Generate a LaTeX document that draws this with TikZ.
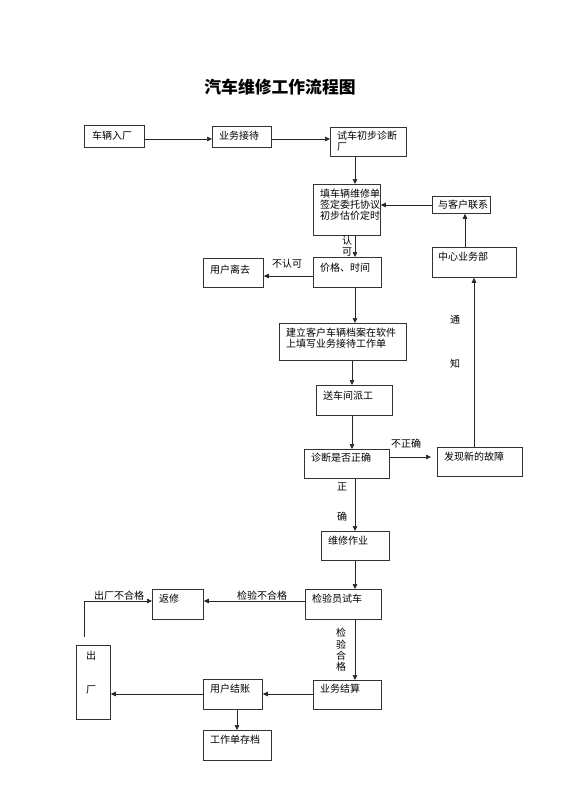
\documentclass[tikz,border=0pt]{standalone}
\usepackage{fontspec}
\setmainfont{Noto Sans CJK SC}
\usetikzlibrary{arrows.meta}
\begin{document}
\begin{tikzpicture}[x=1pt,y=-1pt,
  box/.style={draw=black!80,line width=0.8pt,minimum width=#1,anchor=north west,inner sep=0pt},
  txt/.style={inner sep=0pt,anchor=west,font=\fontsize{10}{11}\selectfont},
  mtxt/.style={inner sep=0pt,anchor=north west,align=left,font=\fontsize{10}{11}\selectfont},
  lbl/.style={inner sep=0pt,font=\fontsize{10}{11}\selectfont},
  vlbl/.style={inner sep=0pt,align=center,font=\fontsize{10}{11.3}\selectfont},
  arr/.style={draw=black!85,line width=0.7pt,-{Triangle[length=5pt,width=4.5pt]}},
  ln/.style={draw=black!85,line width=0.7pt}]
\fill[white] (0,0) rectangle (560,792);
\useasboundingbox (0,0) rectangle (560,792);

\node[inner sep=0pt,font=\fontsize{16.8}{18}\selectfont\bfseries] (title) at (280,87) {汽车维修工作流程图};

% boxes
\node[box=60pt,minimum height=22pt] (rk) at (84,125) {};
\node[txt] (rkt) at (92,136) {车辆入厂};
\node[box=59pt,minimum height=21pt] (yw) at (212,126) {};
\node[txt] (ywt) at (219,136) {业务接待};
\node[box=76pt,minimum height=29pt] (sc) at (330,127) {};
\node[mtxt] (sct) at (337,131) {试车初步诊断\\厂};
\node[box=67pt,minimum height=51pt] (tx) at (313,184) {};
\node[mtxt] (txt) at (320,189) {填车辆维修单\\签定委托协议\\初步估价定时};
\node[box=58pt,minimum height=17pt] (lx) at (432,196) {};
\node[txt] (lxt) at (438,205) {与客户联系};
\node[box=84pt,minimum height=30pt] (zx) at (432,247) {};
\node[txt] (zxt) at (438,257) {中心业务部};
\node[box=68pt,minimum height=30pt] (jg) at (313,257) {};
\node[txt] (jgt) at (320,268) {价格、时间};
\node[box=60pt,minimum height=29pt] (lq) at (203,258) {};
\node[txt] (lqt) at (210,270) {用户离去};
\node[box=127pt,minimum height=37pt] (jl) at (279,323) {};
\node[mtxt] (jlt) at (286,328) {建立客户车辆档案在软件\\上填写业务接待工作单};
\node[box=76pt,minimum height=30pt] (pg) at (316,385) {};
\node[txt] (pgt) at (323,396) {送车间派工};
\node[box=85pt,minimum height=29pt] (zd) at (304,449) {};
\node[txt] (zdt) at (311,458) {诊断是否正确};
\node[box=85pt,minimum height=29pt] (fx) at (437,447) {};
\node[txt] (fxt) at (444,457) {发现新的故障};
\node[box=68pt,minimum height=29pt] (wx) at (321,531) {};
\node[txt] (wxt) at (328,541) {维修作业};
\node[box=76pt,minimum height=30pt] (jy) at (305,589) {};
\node[txt] (jyt) at (312,599) {检验员试车};
\node[box=51pt,minimum height=30pt] (fxx) at (152,589) {};
\node[txt] (fxxt) at (159,599) {返修};
\node[box=34pt,minimum height=74pt] (cc) at (76,645) {};
\node[lbl] (cc1) at (91,656) {出};
\node[lbl] (cc2) at (91,690) {厂};
\node[box=59pt,minimum height=30pt] (jz) at (203,679) {};
\node[txt] (jzt) at (210,689) {用户结账};
\node[box=68pt,minimum height=29pt] (js) at (313,680) {};
\node[txt] (jst) at (320,689) {业务结算};
\node[box=68pt,minimum height=30pt] (cd) at (203,730) {};
\node[txt] (cdt) at (210,740) {工作单存档};

% helper coordinates
\coordinate (x355) at (355,0);
\coordinate (x352) at (352,0);
\coordinate (x465) at (465,0);
\coordinate (x474) at (474,0);
\coordinate (x237) at (237,0);
\coordinate (y139) at (0,139);
\coordinate (y205) at (0,205);
\coordinate (y276) at (0,276);
\coordinate (y457) at (0,457);
\coordinate (y601) at (0,601);
\coordinate (y694) at (0,694);
\coordinate (ccTop) at (84,637);
\coordinate (ccBend) at (84,601);

% connectors
\draw[arr] (y139 -| rk.east) -- (y139 -| yw.west);
\draw[arr] (y139 -| yw.east) -- (y139 -| sc.west);
\draw[arr] (x355 |- sc.south) -- (x355 |- tx.north);
\draw[arr] (y205 -| lx.west) -- (y205 -| tx.east);
\draw[arr] (x465 |- zx.north) -- (x465 |- lx.south);
\draw[arr] (x474 |- fx.north) -- (x474 |- zx.south);
\draw[arr] (x355 |- tx.south) -- (x355 |- jg.north);
\draw[arr] (y276 -| jg.west) -- (y276 -| lq.east);
\draw[arr] (x355 |- jg.south) -- (x355 |- jl.north);
\draw[arr] (x352 |- jl.south) -- (x352 |- pg.north);
\draw[arr] (x352 |- pg.south) -- (x352 |- zd.north);
\draw[arr,shorten >=6pt] (y457 -| zd.east) -- (y457 -| fx.west);
\draw[arr] (x355 |- zd.south) -- (x355 |- wx.north);
\draw[arr] (x355 |- wx.south) -- (x355 |- jy.north);
\draw[arr] (y601 -| jy.west) -- (y601 -| fxx.east);
\draw[arr] (ccTop) -- (ccBend) -- (ccBend -| fxx.west);
\draw[arr] (x355 |- jy.south) -- (x355 |- js.north);
\draw[arr] (y694 -| js.west) -- (y694 -| jz.east);
\draw[arr] (y694 -| jz.west) -- (y694 -| cc.east);
\draw[arr] (x237 |- jz.south) -- (x237 |- cd.north);

% labels
\node[vlbl] (lrk) at (347,246.5) {认\\可};
\node[lbl] (lbrk) at (287,264) {不认可};
\node[lbl] (ltong) at (455,320) {通};
\node[lbl] (lzhi) at (455,364) {知};
\node[lbl] (lbzq) at (406,444) {不正确};
\node[lbl] (lzheng) at (342,487) {正};
\node[lbl] (lque) at (342,517) {确};
\node[lbl] (ljybhg) at (262,596) {检验不合格};
\node[lbl] (lccbhg) at (119,596) {出厂不合格};
\node[vlbl] (ljyhg) at (341,650) {检\\验\\合\\格};
\end{tikzpicture}
\end{document}
